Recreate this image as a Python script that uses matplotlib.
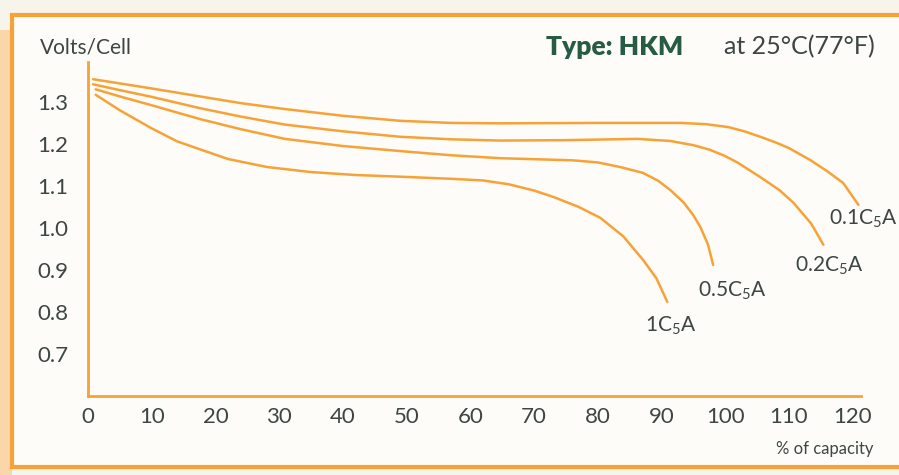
import matplotlib
matplotlib.use('Agg')
import matplotlib.pyplot as plt
from matplotlib.patches import Rectangle

# % of capacity vs volts/cell
cap_01 = [0.8, 5, 10, 17.6, 24, 30.9, 40, 49.0, 57, 64.7, 80, 93, 97, 100.5, 103, 105.5, 108, 110, 113.3, 116, 118.5, 120.9]
volt_01 = [1.354, 1.344, 1.332, 1.313, 1.297, 1.283, 1.267, 1.255, 1.250, 1.249, 1.250, 1.250, 1.247, 1.240, 1.230, 1.217, 1.203, 1.190, 1.162, 1.135, 1.107, 1.055]

cap_02 = [0.8, 5, 10, 17.6, 24, 30.9, 40, 49.0, 57, 64.7, 75, 86.2, 91.4, 95, 97.6, 100, 102, 105.5, 108.5, 110.7, 113.5, 115.4]
volt_02 = [1.342, 1.328, 1.312, 1.285, 1.265, 1.246, 1.230, 1.217, 1.211, 1.208, 1.209, 1.212, 1.207, 1.197, 1.186, 1.171, 1.155, 1.121, 1.090, 1.060, 1.010, 0.960]

cap_05 = [1.2, 5, 10, 17.6, 24, 30.9, 40, 49.0, 57, 64.7, 76, 80, 83.5, 87.1, 89.5, 91.4, 93.5, 95, 96.1, 97.3, 98.1]
volt_05 = [1.330, 1.313, 1.292, 1.259, 1.235, 1.212, 1.195, 1.183, 1.173, 1.166, 1.161, 1.156, 1.145, 1.131, 1.112, 1.090, 1.060, 1.030, 1.002, 0.960, 0.912]

cap_1 = [1.2, 5, 10, 14, 17.6, 22, 28.1, 35, 42, 49.0, 57, 62, 66, 70, 73.0, 77, 80.4, 84, 87.1, 89.2, 90.9]
volt_1 = [1.317, 1.280, 1.237, 1.206, 1.187, 1.164, 1.145, 1.133, 1.126, 1.122, 1.117, 1.113, 1.104, 1.089, 1.074, 1.050, 1.024, 0.980, 0.924, 0.880, 0.824]

labels = ['0.1C$_5$A', '0.2C$_5$A', '0.5C$_5$A', '1C$_5$A']
label_pos = [(121.6, 1.022), (116.3, 0.910), (101.1, 0.850), (91.5, 0.767)]

x_ticks = list(range(0, 121, 10))
y_ticks = [0.7, 0.8, 0.9, 1.0, 1.1, 1.2, 1.3]

orange = '#f7a236'
text_col = '#3d4643'
green = '#275c42'

plt.rcParams['font.family'] = ['Lato', 'DejaVu Sans']
plt.rcParams['mathtext.default'] = 'regular'

fig = plt.figure(figsize=(8.99, 4.75), dpi=100)
fig.patch.set_facecolor('#f7f4ec')

W, H = 899, 475
# inner panel and frame
fig.patches.append(Rectangle((0, 0), 12 / W, 1 - 30 / H, transform=fig.transFigure,
                             facecolor='#fbd6ab', edgecolor='none', zorder=-2))
fig.patches.append(Rectangle((12 / W, 8 / H), 1, 1 - 23 / H, transform=fig.transFigure,
                             facecolor='#fdfcf8', edgecolor=orange, linewidth=3, zorder=-1))

ax = fig.add_axes([88 / W, 1 - 396 / H, (861 - 88) / W, (396 - 62) / H])
ax.set_facecolor('none')
ax.set_zorder(2)

for c, v in [(cap_01, volt_01), (cap_02, volt_02), (cap_05, volt_05), (cap_1, volt_1)]:
    ax.plot(c, v, color=orange, lw=1.8, solid_capstyle='round', solid_joinstyle='round',
            clip_on=False)

for lab, (lx, ly) in zip(labels, label_pos):
    ax.text(lx, ly, lab, ha='center', va='center', fontsize=15, color=text_col)

ax.set_xlim(0, 121.3)
ax.set_ylim(0.6, 1.395)
ax.set_xticks(x_ticks)
ax.set_yticks(y_ticks)
ax.tick_params(length=0, labelsize=16, colors=text_col)
ax.tick_params(axis='y', pad=14)
ax.tick_params(axis='x', pad=8)
for s in ['top', 'right']:
    ax.spines[s].set_visible(False)
for s in ['left', 'bottom']:
    ax.spines[s].set_color(orange)
    ax.spines[s].set_linewidth(2)

fig.text(40 / W, 1 - 48 / H, 'Volts/Cell', fontsize=15, color=text_col, va='center')
fig.text(683 / W, 1 - 47 / H, 'Type: HKM', fontsize=19, color=green, fontweight='heavy',
         va='center', ha='right')
fig.text(875 / W, 1 - 47 / H, 'at 25°C(77°F)', fontsize=18, color=text_col,
         va='center', ha='right')
fig.text(873 / W, 1 - 449 / H, '% of capacity', fontsize=12, color=text_col,
         va='center', ha='right')

fig.savefig('out.png', dpi=100, facecolor=fig.get_facecolor())
